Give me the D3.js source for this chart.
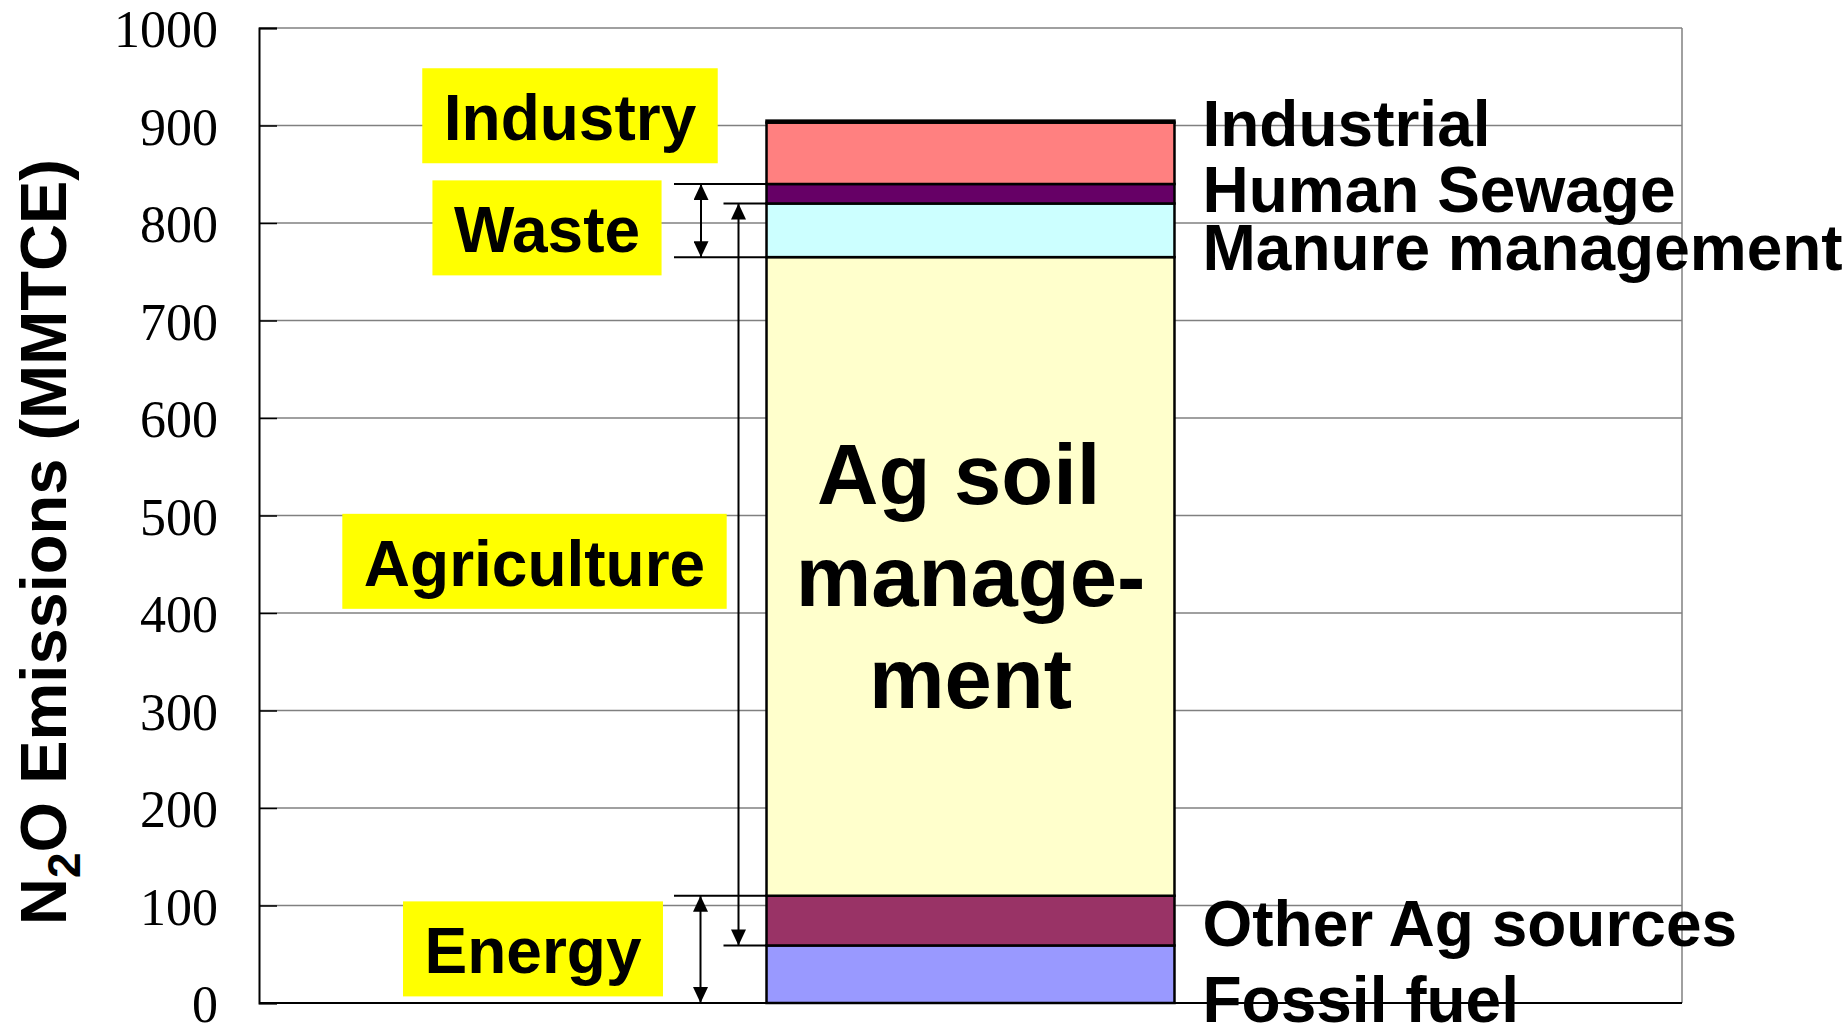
<!DOCTYPE html>
<html>
<head>
<meta charset="utf-8">
<script src="https://cdn.jsdelivr.net/npm/d3@7"></script>
<style>
  html, body { margin: 0; padding: 0; background: #fff; overflow: hidden; }
  svg { display: block; }
  .bold { font-family: "Liberation Sans", Arial, sans-serif; font-weight: bold; fill: #000; }
  .tick-label { font-family: "Liberation Serif", "Times New Roman", serif; font-size: 52px; fill: #000; }
</style>
</head>
<body>
<svg id="chart" width="1848" height="1025"></svg>
<script>
// Stack segments, bottom to top (MMTCE).
const segments = [ 'Fossil fuel', 'Other Ag sources', 'Ag soil management', 'Manure management', 'Human Sewage', 'Industrial', 'Other' ];
const segValues = [ 59, 51, 655, 55, 20, 63, 2 ];
const segColors = [ '#9999FF', '#993366', '#FFFFCC', '#CCFFFF', '#660066', '#FF8080', '#000000' ];

// Labels to the right of the bar, with the value they sit at.
const sideLabels   = [ 'Industrial', 'Human Sewage', 'Manure management', 'Other Ag sources', 'Fossil fuel' ];
const sideLabelAt  = [ 879, 811, 752, 58.5, -19.5 ];

// Sector boxes and which segments their arrows span (first, last).
const sectors      = [ 'Industry', 'Waste', 'Agriculture', 'Energy' ];
const sectorAt     = [ 910, 795, 453, 55.5 ];
const sectorSpan   = [ null, [ 3, 4 ], [ 1, 3 ], [ 0, 1 ] ];

const yTicks = d3.range( 0, 1001, 100 );
const yMax   = 1000;

// Layout.
const W = 1848, H = 1025;
const plot = { left: 259, right: 1682, top: 28, bottom: 1003 };
const boxX   = [ 570, 547, 534.5, 533 ];   // box centres
const arrowX = [ null, 701, 738.5, 700.5 ];
const lineX0 = [ null, 674, 723.5, 674 ];

const svg = d3.select( '#chart' );

const y = d3.scaleLinear( ).domain( [ 0, yMax ] ).range( [ plot.bottom, plot.top ] );
const x = d3.scaleBand( ).domain( [ 'N2O' ] )
  .range( [ plot.left, plot.right ] )
  .paddingInner( 0 ).paddingOuter( 1.244 );

// Gridlines.
svg.append( 'g' )
  .selectAll( 'line' )
  .data( yTicks.filter( t => t > 0 ) )
  .join( 'line' )
    .attr( 'x1', plot.left ).attr( 'x2', plot.right )
    .attr( 'y1', d => y( d ) ).attr( 'y2', d => y( d ) )
    .attr( 'stroke', '#808080' ).attr( 'stroke-width', 1.3 );

// Right border.
svg.append( 'line' )
  .attr( 'x1', plot.right ).attr( 'x2', plot.right )
  .attr( 'y1', plot.top ).attr( 'y2', plot.bottom )
  .attr( 'stroke', '#808080' ).attr( 'stroke-width', 1.5 );

// Y axis (ticks inside).
const yAxis = svg.append( 'g' )
  .attr( 'transform', `translate(${plot.left},0)` )
  .call( d3.axisLeft( y ).tickValues( yTicks ).tickFormat( d3.format( 'd' ) ).tickSize( -18 ).tickPadding( 0 ) );
yAxis.select( '.domain' ).attr( 'stroke', '#000' ).attr( 'stroke-width', 2 );
yAxis.selectAll( '.tick line' ).attr( 'stroke', '#000' ).attr( 'stroke-width', 1.5 );
yAxis.selectAll( '.tick text' )
  .attr( 'class', 'tick-label' )
  .attr( 'x', 218 - plot.left )
  .attr( 'dy', '0.36em' )
  .attr( 'text-anchor', 'end' )
  .attr( 'font-size', null ).attr( 'font-family', null );

// Bottom axis line.
svg.append( 'line' )
  .attr( 'x1', plot.left ).attr( 'x2', plot.right )
  .attr( 'y1', plot.bottom ).attr( 'y2', plot.bottom )
  .attr( 'stroke', '#000' ).attr( 'stroke-width', 2 );

// Y axis title.
const title = svg.append( 'text' )
  .attr( 'class', 'bold' )
  .attr( 'font-size', 65 )
  .attr( 'text-anchor', 'middle' )
  .attr( 'transform', 'translate(66,542) rotate(-90)' );
title.append( 'tspan' ).text( 'N' );
title.append( 'tspan' ).attr( 'font-size', 46 ).attr( 'dy', 14 ).text( '2' );
title.append( 'tspan' ).attr( 'dy', -14 ).text( 'O Emissions (MMTCE)' );

// Stacked bar.
const row = { cat: 'N2O' };
segments.forEach( ( s, i ) => row[ s ] = segValues[ i ] );
const stacked = d3.stack( ).keys( segments )( [ row ] );

svg.append( 'g' )
  .selectAll( 'rect' )
  .data( stacked )
  .join( 'rect' )
    .attr( 'x', x( 'N2O' ) )
    .attr( 'width', x.bandwidth( ) )
    .attr( 'y', d => y( d[0][1] ) )
    .attr( 'height', d => y( d[0][0] ) - y( d[0][1] ) )
    .attr( 'fill', ( d, i ) => segColors[ i ] )
    .attr( 'stroke', '#000' )
    .attr( 'stroke-width', 2.5 );

// Text inside the Ag soil segment.
const ag = stacked[ 2 ][ 0 ];
const agMid = y( ( ag[0] + ag[1] ) / 2 );
const cx = x( 'N2O' ) + x.bandwidth( ) / 2;
svg.append( 'text' )
  .attr( 'class', 'bold' )
  .attr( 'font-size', 85 )
  .attr( 'text-anchor', 'middle' )
  .selectAll( 'tspan' )
  .data( [ 'Ag soil\u00a0', 'manage-', 'ment' ] )
  .join( 'tspan' )
    .attr( 'x', cx )
    .attr( 'y', ( d, i ) => agMid - 72 + i * 101.7 )
    .text( d => d );

// Side labels.
svg.append( 'g' )
  .selectAll( 'text' )
  .data( sideLabels )
  .join( 'text' )
    .attr( 'class', 'bold' )
    .attr( 'font-size', 64 )
    .attr( 'x', x( 'N2O' ) + x.bandwidth( ) + 28 )
    .attr( 'y', ( d, i ) => y( sideLabelAt[ i ] ) )
    .text( d => d );

// Arrow marker.
const defs = svg.append( 'defs' );
defs.append( 'marker' )
  .attr( 'id', 'head' )
  .attr( 'markerUnits', 'userSpaceOnUse' )
  .attr( 'markerWidth', 16 ).attr( 'markerHeight', 15 )
  .attr( 'refX', 16 ).attr( 'refY', 7.5 )
  .attr( 'orient', 'auto-start-reverse' )
  .append( 'path' )
    .attr( 'd', 'M0,0 L16,7.5 L0,15 Z' )
    .attr( 'fill', '#000' );

// Sector spans: helper lines and double arrows.
sectors.forEach( ( s, i ) => {
  const span = sectorSpan[ i ];
  if ( !span ) return;
  const lo = stacked[ span[0] ][ 0 ][ 0 ];
  const hi = stacked[ span[1] ][ 0 ][ 1 ];
  [ lo, hi ].forEach( v => {
    svg.append( 'line' )
      .attr( 'x1', lineX0[ i ] ).attr( 'x2', x( 'N2O' ) )
      .attr( 'y1', y( v ) ).attr( 'y2', y( v ) )
      .attr( 'stroke', '#000' ).attr( 'stroke-width', 2 );
  } );
  svg.append( 'line' )
    .attr( 'x1', arrowX[ i ] ).attr( 'x2', arrowX[ i ] )
    .attr( 'y1', y( hi ) ).attr( 'y2', y( lo ) )
    .attr( 'stroke', '#000' ).attr( 'stroke-width', 2 )
    .attr( 'marker-start', 'url(#head)' )
    .attr( 'marker-end', 'url(#head)' );
} );

// Yellow sector boxes.
sectors.forEach( ( s, i ) => {
  const g = svg.append( 'g' );
  const top = y( sectorAt[ i ] ) - 47.5;
  const rect = g.append( 'rect' ).attr( 'fill', '#FFFF00' );
  const t = g.append( 'text' )
    .attr( 'class', 'bold' )
    .attr( 'font-size', 64 )
    .attr( 'text-anchor', 'middle' )
    .attr( 'x', boxX[ i ] )
    .attr( 'y', top + 72 )
    .text( s );
  const w = t.node( ).getComputedTextLength( ) + 43;
  rect.attr( 'x', boxX[ i ] - w / 2 ).attr( 'y', top )
    .attr( 'width', w ).attr( 'height', 95 );
} );
</script>
</body>
</html>
